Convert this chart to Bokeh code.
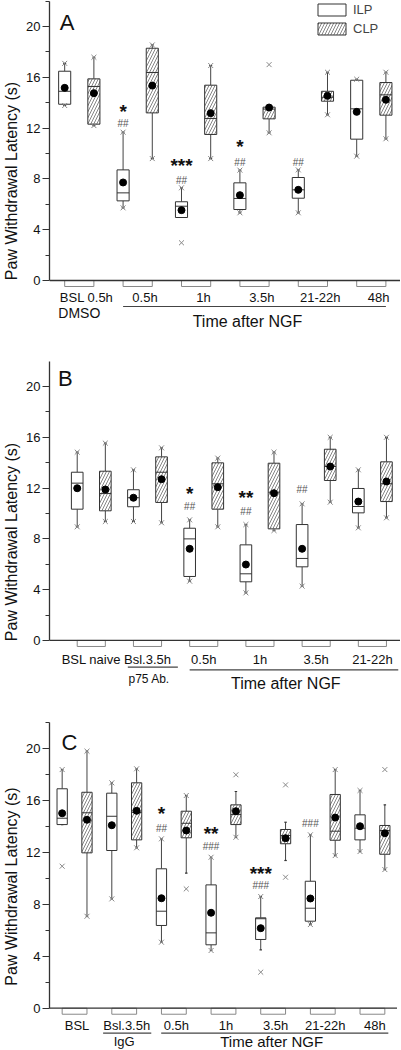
from bokeh.plotting import figure
from bokeh.models import FixedTicker, Span, Legend, LegendItem, Range1d
from bokeh.layouts import column
from bokeh.embed import file_html
from bokeh.resources import INLINE
from bokeh.core.properties import value

FONT = "Liberation Sans"

# ---------------- Panel A (order: ILP, CLP per time point) ----------------
A_groups = ["BSL 0.5h", "0.5h", "1h", "3.5h", "21-22h", "48h"]
A_q3 = [16.48, 15.88, 8.71, 18.29, 6.20, 15.38, 7.69, 13.65, 8.11, 14.90, 15.77, 15.59]
A_med = [14.90, 15.28, 6.90, 16.38, 5.85, 12.76, 6.46, 13.50, 7.14, 14.43, 13.52, 14.62]
A_q1 = [13.88, 12.31, 6.27, 13.20, 4.96, 11.50, 5.59, 12.73, 6.48, 14.12, 11.13, 13.02]
A_mean = [15.17, 14.75, 7.72, 15.35, 5.54, 13.18, 6.72, 13.62, 7.14, 14.54, 13.28, 14.23]
A_whi = [17.10, 17.58, 11.68, 18.55, 7.30, 16.93, 8.69, 13.65, 8.71, 16.40, 15.85, 16.40]
A_wlo = [13.78, 12.20, 5.72, 9.60, 4.96, 9.60, 5.33, 11.63, 5.33, 13.05, 9.79, 11.16]
A_max = [17.10, 17.58, 11.68, 18.55, 7.30, 16.93, 8.69, 17.00, 8.71, 16.40, 15.85, 16.40]
A_min = [13.78, 12.20, 5.72, 9.60, 2.97, 9.60, 5.33, 11.63, 5.33, 13.05, 9.79, 11.16]
A_star_idx = [2, 4, 6]
A_star_txt = ["*", "***", "*"]
A_star_y = [14.17, 9.90, 11.42]
A_hash_idx = [2, 4, 6, 8]
A_hash_txt = ["##", "##", "##", "##"]
A_hash_y = [12.65, 8.14, 9.58, 9.58]

# ---------------- Panel B ----------------
B_groups = ["BSL naive", "Bsl.3.5h", "0.5h", "1h", "3.5h", "21-22h"]
B_q3 = [13.25, 13.33, 11.87, 14.46, 8.84, 13.99, 7.53, 13.96, 9.13, 15.06, 11.97, 14.07]
B_med = [12.39, 11.57, 11.24, 13.25, 8.00, 12.34, 5.25, 11.68, 6.46, 13.70, 10.55, 12.34]
B_q1 = [10.34, 10.21, 10.53, 10.87, 5.04, 10.34, 4.62, 8.79, 5.80, 12.60, 10.05, 10.94]
B_mean = [11.99, 11.89, 11.24, 12.70, 7.22, 12.07, 5.98, 11.60, 7.22, 13.70, 10.94, 12.52]
B_whi = [14.83, 15.54, 13.44, 15.17, 9.50, 14.36, 9.13, 14.83, 10.76, 16.00, 13.44, 16.00]
B_wlo = [8.95, 9.37, 9.37, 9.27, 4.67, 8.95, 3.75, 8.66, 4.28, 10.89, 8.87, 9.66]
B_max = [14.83, 15.54, 13.44, 15.17, 9.50, 14.36, 9.13, 14.83, 10.76, 16.00, 13.44, 16.00]
B_min = [8.95, 9.37, 9.37, 9.27, 4.67, 8.95, 3.75, 8.66, 4.28, 10.89, 8.87, 9.66]
B_star_idx = [4, 6]
B_star_txt = ["*", "**"]
B_star_y = [12.46, 12.15]
B_hash_idx = [4, 6, 8]
B_hash_txt = ["##", "##", "##"]
B_hash_y = [10.81, 10.42, 12.15]

# ---------------- Panel C ----------------
C_groups = ["BSL", "Bsl.3.5h", "0.5h", "1h", "3.5h", "21-22h", "48h"]
C_q3 = [16.92, 16.65, 16.58, 17.38, 10.75, 15.19, 9.51, 15.68, 6.97, 13.78, 9.79, 16.48, 14.91, 14.09]
C_med = [14.65, 15.07, 14.80, 15.10, 7.48, 14.26, 5.81, 14.93, 6.90, 13.32, 7.71, 13.65, 13.88, 13.70]
C_q1 = [14.16, 11.98, 12.16, 12.98, 6.38, 13.14, 4.89, 14.16, 5.30, 12.68, 6.71, 12.95, 12.98, 11.87]
C_mean = [15.03, 14.53, 14.11, 15.22, 8.48, 13.70, 7.36, 15.19, 6.17, 13.11, 8.46, 14.70, 14.03, 13.49]
C_whi = [18.40, 19.82, 17.38, 18.46, 13.06, 16.40, 11.64, 16.71, 8.61, 14.34, 13.37, 18.40, 16.79, 15.68]
C_wlo = [14.16, 7.09, 8.43, 12.37, 5.09, 10.41, 4.45, 13.18, 4.50, 11.39, 6.45, 11.77, 12.08, 10.69]
C_max = [18.40, 19.82, 17.38, 18.46, 13.06, 16.40, 11.64, 18.00, 8.61, 17.22, 13.37, 18.40, 16.79, 18.40]
C_min = [10.95, 7.09, 8.43, 12.37, 5.09, 9.20, 4.45, 13.18, 2.78, 10.10, 6.45, 11.77, 12.08, 10.69]
C_star_idx = [4, 6, 8]
C_star_txt = ["*", "**", "***"]
C_star_y = [15.84, 14.34, 11.26]
C_hash_idx = [4, 6, 8, 10]
C_hash_txt = ["##", "###", "###", "###"]
C_hash_y = [14.14, 12.72, 9.71, 14.53]

Y_TICKS = [0, 4, 8, 12, 16, 20]
Y_MINOR = [2, 6, 10, 14, 18, 22]
HW = 0.207
STAR_PX = 19
HASH_PX = 10


def txt(p, x, y, s, size, align="center", baseline="middle", color="#111", style="normal"):
    p.text(x=[x], y=[y], text=[s], text_font=value(FONT), text_font_size=size,
           text_align=align, text_baseline=baseline, text_color=color, text_font_style=style)


def panel(letter, letter_xy, groups, q1, med, q3, mean, wlo, whi, mn, mx,
          star_idx, star_txt, star_y, hash_idx, hash_txt, hash_y,
          width, height, xr, yr, px_per_unit, lab_cfg):
    n = len(q1)
    pos = list(range(n))
    p = figure(width=width, height=height, x_range=Range1d(*xr), y_range=Range1d(*yr),
               x_axis_location=None, toolbar_location=None, output_backend="svg",
               min_border_left=48, min_border_right=0, min_border_top=0, min_border_bottom=0)
    p.outline_line_color = None
    p.xgrid.visible = False
    p.ygrid.visible = False
    p.background_fill_color = "white"

    ax = p.yaxis[0]
    ax.ticker = FixedTicker(ticks=Y_TICKS, minor_ticks=Y_MINOR)
    ax.bounds = (0, 22)
    ax.axis_label = "Paw Withdrawal Latency (s)"
    ax.axis_label_text_font = FONT
    ax.axis_label_text_font_size = "16px"
    ax.axis_label_text_font_style = "normal"
    ax.axis_label_text_color = "#111"
    ax.axis_label_standoff = 3
    ax.major_label_text_font = FONT
    ax.major_label_text_font_size = "13px"
    ax.major_label_text_color = "#111"
    ax.major_label_standoff = 2
    ax.major_tick_in = 0
    ax.major_tick_out = 7
    ax.minor_tick_in = 0
    ax.minor_tick_out = 4
    ax.axis_line_color = "#333"
    ax.axis_line_width = 1.3
    ax.major_tick_line_color = "#333"
    ax.minor_tick_line_color = "#333"

    p.add_layout(Span(location=0, dimension="width", line_color="#333", line_width=1.3))

    ilp = [i for i in pos if i % 2 == 0]
    clp = [i for i in pos if i % 2 == 1]

    # whiskers
    p.segment(x0=pos, y0=q3, x1=pos, y1=whi, line_color="#444", line_width=1)
    p.segment(x0=pos, y0=q1, x1=pos, y1=wlo, line_color="#444", line_width=1)
    p.segment(x0=[i - 0.05 for i in pos], y0=whi, x1=[i + 0.05 for i in pos], y1=whi,
              line_color="#333", line_width=1.2)
    p.segment(x0=[i - 0.05 for i in pos], y0=wlo, x1=[i + 0.05 for i in pos], y1=wlo,
              line_color="#333", line_width=1.2)

    # boxes
    r_ilp = p.quad(left=[i - HW for i in ilp], right=[i + HW for i in ilp],
                   bottom=[q1[i] for i in ilp], top=[q3[i] for i in ilp],
                   fill_color="white", line_color="#333", line_width=1)
    r_clp = p.quad(left=[i - HW for i in clp], right=[i + HW for i in clp],
                   bottom=[q1[i] for i in clp], top=[q3[i] for i in clp],
                   fill_color="white", line_color="#333", line_width=1,
                   hatch_pattern="/", hatch_color="#666", hatch_scale=6, hatch_weight=0.8)
    p.segment(x0=[i - HW for i in pos], y0=med, x1=[i + HW for i in pos], y1=med,
              line_color="#333", line_width=1)

    # min / max markers and means
    p.scatter(x=pos + pos, y=list(mn) + list(mx), marker="x", size=7,
              line_color="#888", line_width=1)
    p.scatter(x=pos, y=mean, marker="circle", size=7, fill_color="black", line_color="black")

    # significance marks (baseline placed so the glyph centre sits on the value)
    star_shift = 0.58 * STAR_PX / px_per_unit
    hash_shift = 0.36 * HASH_PX / px_per_unit
    p.text(x=star_idx, y=[v - star_shift for v in star_y], text=star_txt,
           text_font=value(FONT), text_font_size=f"{STAR_PX}px",
           text_font_style="bold", text_align="center", text_baseline="alphabetic",
           text_color="#111")
    p.text(x=hash_idx, y=[v - hash_shift for v in hash_y], text=hash_txt,
           text_font=value(FONT), text_font_size=f"{HASH_PX}px",
           text_align="center", text_baseline="alphabetic", text_color="#555")

    # bracket ticks under axis
    ng = len(groups)
    p.quad(left=[2 * g for g in range(ng)], right=[2 * g + 1 for g in range(ng)],
           top=[0] * ng, bottom=[-6.0 / px_per_unit] * ng,
           fill_color=None, line_color="#888", line_width=1)

    # group labels
    for g, lab in enumerate(groups):
        txt(p, 2 * g + 0.5 + lab_cfg["dx"], lab_cfg["ly"], lab, "13px")
    for (xc, yy, s, size) in lab_cfg["extra"]:
        txt(p, xc, yy, s, size)
    for (x0, x1, yy) in lab_cfg["lines"]:
        p.segment(x0=[x0], y0=[yy], x1=[x1], y1=[yy], line_color="#444", line_width=1.2)

    # panel letter
    txt(p, letter_xy[0], letter_xy[1], letter, "22px", align="left", baseline="alphabetic")
    return p, r_ilp, r_clp


pA, rA_ilp, rA_clp = panel(
    "A", (-0.17, 20.34), A_groups, A_q1, A_med, A_q3, A_mean, A_wlo, A_whi, A_min, A_max,
    A_star_idx, A_star_txt, A_star_y, A_hash_idx, A_hash_txt, A_hash_y,
    width=400, height=361, xr=(-0.52, 11.5), yr=(-6.38, 22.05), px_per_unit=12.7,
    lab_cfg=dict(dx=0.25, ly=-1.31,
                 extra=[(0.5, -2.54, "DMSO", "14px"), (6.26, -3.23, "Time after NGF", "16px")],
                 lines=[(2.0, 11.0, -2.05)]))

legend = Legend(items=[LegendItem(label="ILP", renderers=[rA_ilp]),
                       LegendItem(label="CLP", renderers=[rA_clp])],
                location=(265, 325), glyph_width=35, glyph_height=15, label_height=15,
                label_text_font=FONT, label_text_font_size="13px", label_standoff=4,
                spacing=4, padding=0, margin=0, border_line_alpha=0,
                background_fill_alpha=0)
pA.add_layout(legend)

pB, _, _ = panel(
    "B", (-0.68, 20.6), B_groups, B_q1, B_med, B_q3, B_mean, B_wlo, B_whi, B_min, B_max,
    B_star_idx, B_star_txt, B_star_y, B_hash_idx, B_hash_txt, B_hash_y,
    width=400, height=361, xr=(-0.986, 11.5), yr=(-6.46, 21.97), px_per_unit=12.7,
    lab_cfg=dict(dx=0.0, ly=-1.52,
                 extra=[(2.56, -3.0, "p75 Ab.", "12px"), (7.42, -3.39, "Time after NGF", "16px")],
                 lines=[(1.8, 3.58, -2.1), (4.0, 11.42, -2.31)]))

pC, _, _ = panel(
    "C", (-0.03, 20.5), C_groups, C_q1, C_med, C_q3, C_mean, C_wlo, C_whi, C_min, C_max,
    C_star_idx, C_star_txt, C_star_y, C_hash_idx, C_hash_txt, C_hash_y,
    width=397, height=328, xr=(-0.51, 13.51), yr=(-3.26, 22.03), px_per_unit=12.97,
    lab_cfg=dict(dx=0.1, ly=-1.36,
                 extra=[(2.5, -2.56, "IgG", "13px"), (8.44, -2.56, "Time after NGF", "15px")],
                 lines=[(1.65, 3.59, -1.92), (3.99, 13.14, -1.92)]))

layout = column(pA, pB, pC, spacing=0)
open("out.html", "w").write(file_html(layout, INLINE))
